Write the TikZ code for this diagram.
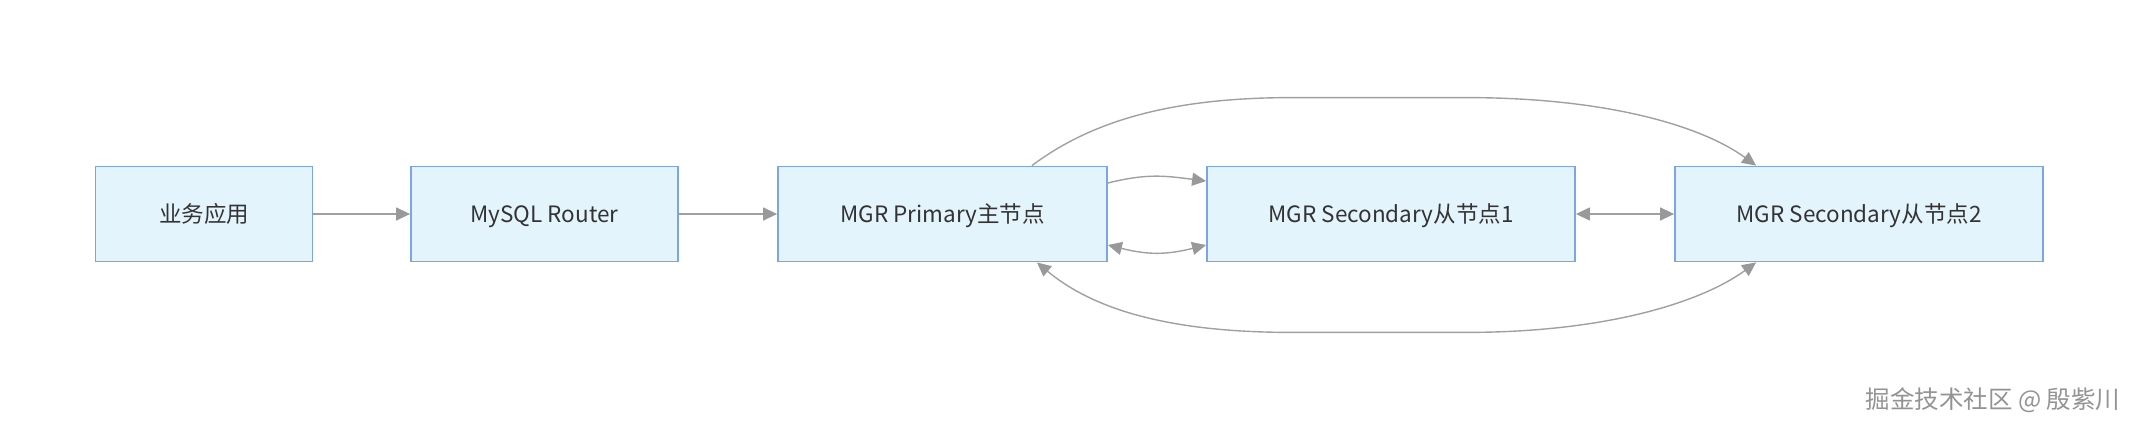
\documentclass[tikz,border=0pt]{standalone}
\usepackage{fontspec}
\setmainfont{Noto Sans CJK SC}
\usetikzlibrary{arrows.meta,calc}
\definecolor{boxfill}{HTML}{E4F4FD}
\definecolor{boxdraw}{HTML}{7AA6E6}
\definecolor{edgecol}{HTML}{A0A0A0}
\definecolor{tipcol}{HTML}{999999}
\definecolor{txt}{HTML}{333333}
\begin{document}
\begin{tikzpicture}[x=1pt,y=-1pt,
  box/.style={draw=boxdraw, fill=boxfill, line width=1.8pt, minimum height=95pt,
    inner sep=0pt, text height=16pt, text depth=0pt, text=txt, font=\fontsize{22.5}{26}\selectfont},
  edge/.style={draw=edgecol, line width=1.4pt},
  fwd/.style={edge,-{Triangle[length=14pt,width=13pt,fill=tipcol,color=tipcol]}},
  both/.style={edge,{Triangle[length=14pt,width=13pt,fill=tipcol,color=tipcol]}-{Triangle[length=14pt,width=13pt,fill=tipcol,color=tipcol]}}]
\useasboundingbox (0,0) rectangle (2140,428);
\node[box, minimum width=217pt] (app) at (204,214) {业务应用};
\node[box, minimum width=267pt] (router) at (544.5,214) {MySQL Router};
\node[box, minimum width=329pt] (p) at (942.5,214) {MGR Primary主节点};
\node[box, minimum width=368pt] (s1) at (1391,214) {MGR Secondary从节点1};
\node[box, minimum width=368pt] (s2) at (1859,214) {MGR Secondary从节点2};
\node[anchor=east, text=gray!85, font=\fontsize{24.5}{28}\selectfont] (wm) at (2124,400) {掘金技术社区 @ 殷紫川};

\draw[fwd] (app.east) -- (router.west);
\draw[fwd] (router.east) -- (p.west);
\draw[both] (s1.east) -- (s2.west);
% small curves between primary and secondary 1
\draw[fwd] ($(p.east)+(0,-31)$) .. controls ($(p.east)+(40,-41)$) and ($(s1.west)+(-40,-38)$) .. ($(s1.west)+(0,-33)$);
\draw[both] ($(p.east)+(0,31)$) .. controls ($(p.east)+(40,41)$) and ($(s1.west)+(-40,41)$) .. ($(s1.west)+(0,31)$);
% big curves between primary and secondary 2
\coordinate (pt) at ($(p.north east)+(-76,0)$);
\coordinate (pb) at ($(p.south east)+(-71,0)$);
\coordinate (s2t) at ($(s2.north west)+(82,0)$);
\coordinate (s2b) at ($(s2.south west)+(82,0)$);
\draw[fwd] (pt) .. controls ($(pt)+(60,-45)$) and ($(pt)+(140,-68)$) .. ($(pt)+(260,-68)$)
  -- ($(s2t)+(-290,-68)$) .. controls ($(s2t)+(-150,-68)$) and ($(s2t)+(-55,-40)$) .. (s2t);
\draw[both] (pb) .. controls ($(pb)+(60,50)$) and ($(pb)+(140,70)$) .. ($(pb)+(255,70)$)
  -- ($(s2b)+(-290,70)$) .. controls ($(s2b)+(-150,70)$) and ($(s2b)+(-55,40)$) .. (s2b);
\end{tikzpicture}
\end{document}
